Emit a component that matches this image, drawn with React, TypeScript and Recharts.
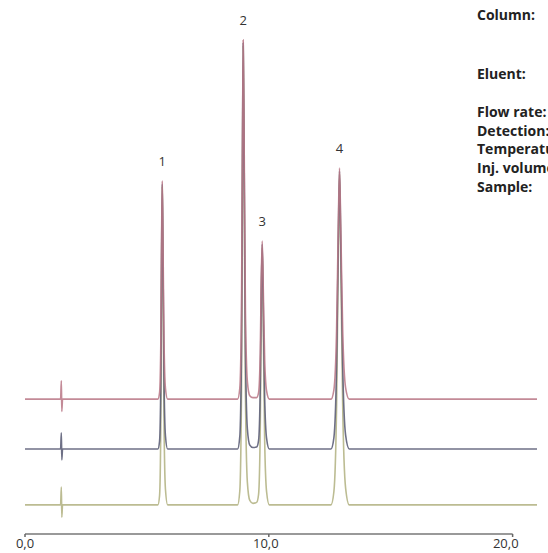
import React from 'react';
import {
  LineChart,
  Line,
  XAxis,
  YAxis,
  ReferenceLine,
  ReferenceDot,
} from 'recharts';

// retention time axis (min), shared by all three runs
const minutes = [
  0, 1.46, 1.49, 1.51, 1.54,
  5.45, 5.52, 5.57, 5.6, 5.63, 5.66, 5.7, 5.76, 5.85,
  8.72, 8.81, 8.88, 8.92, 8.95, 8.99, 9.04, 9.12, 9.22, 9.35,
  9.5, 9.58, 9.65, 9.69, 9.73, 9.77, 9.83, 9.91, 10.02,
  12.55, 12.67, 12.78, 12.85, 12.9, 12.95, 13.03, 13.15, 13.3,
  21,
];

// detector signal per run, offset vertically so the runs stack
const runA = [
  27.3, 27.3, 31.0, 24.8, 27.3,
  27.3, 28.6, 38.4, 58.2, 71.5, 59.1, 39.7, 29.5, 27.3,
  27.3, 29.5, 45.5, 79.6, 100, 78.2, 45.5, 30.9, 28.0, 27.6,
  27.6, 28.6, 36.9, 51.3, 59.3, 50.3, 35.3, 28.9, 27.3,
  27.3, 29.2, 41.3, 62.4, 74.1, 62.4, 41.3, 29.6, 27.3,
  27.3,
];

const runB = [
  17.2, 17.2, 20.5, 15.0, 17.2,
  17.2, 18.8, 30.6, 54.8, 70.9, 55.9, 32.2, 19.9, 17.2,
  17.2, 19.7, 37.8, 76.4, 99.4, 74.7, 37.8, 21.3, 18.0, 17.5,
  17.6, 18.9, 29.7, 48.3, 58.7, 47.1, 27.6, 19.3, 17.2,
  17.2, 19.5, 34.1, 59.4, 73.5, 59.4, 34.1, 20.0, 17.2,
  17.2,
];

const runC = [
  5.9, 5.9, 9.5, 3.4, 5.9,
  5.9, 7.8, 22.0, 51.0, 70.3, 52.3, 23.9, 9.1, 5.9,
  5.9, 8.7, 29.1, 72.8, 98.8, 70.9, 29.1, 10.5, 6.8, 6.2,
  6.4, 8.0, 21.6, 45.1, 58.1, 43.5, 19.0, 8.5, 5.9,
  5.9, 8.6, 26.0, 56.2, 72.9, 56.2, 26.0, 9.3, 5.9,
  5.9,
];

const peakNames = ['1', '2', '3', '4'];
const peakTimes = [5.63, 8.95, 9.73, 12.9];

const xTicks = [0, 10, 20];

// method conditions, grouped as they are laid out on the right
const conditionGroups = [
  ['Column:'],
  ['Eluent:'],
  ['Flow rate:', 'Detection:', 'Temperature:', 'Inj. volume:', 'Sample:'],
];
const groupGaps = [40, 20, 0];

const FONT = '"Open Sans", "DejaVu Sans", sans-serif';

const rows = minutes.map((t, i) => ({
  t,
  a: runA[i],
  b: runB[i],
  c: runC[i],
}));

const TimeTick = (props: any) => {
  const { x, y, payload } = props;
  const v = payload.value as number;
  const label = v.toFixed(1).replace('.', ',');
  let anchor: 'middle' | 'end' = 'middle';
  let dx = 0;
  if (v === 20) {
    anchor = 'end';
    dx = 6;
  } else if (v === 10) {
    dx = -3;
  }
  return (
    <text
      x={x + dx}
      y={y + 9}
      textAnchor={anchor}
      fontSize={13}
      fontFamily={FONT}
      fill="#333"
    >
      {label}
    </text>
  );
};

const App: React.FC = () => {
  return (
    <div
      style={{
        position: 'absolute',
        left: 0,
        top: 0,
        width: 548,
        height: 553,
        overflow: 'hidden',
        background: '#fff',
      }}
    >
      <LineChart
        width={548}
        height={553}
        data={rows}
        margin={{ top: 40, right: 11, left: 25, bottom: 0 }}
      >
        <XAxis
          dataKey="t"
          type="number"
          domain={[0, 21]}
          ticks={xTicks}
          height={19}
          axisLine={false}
          tickLine={{ stroke: '#666', strokeWidth: 1.5 }}
          tickSize={3}
          tickMargin={2}
          tick={<TimeTick />}
        />
        <YAxis type="number" domain={[0, 100]} hide width={0} />
        <ReferenceLine
          segment={[
            { x: 0, y: 0 },
            { x: 20, y: 0 },
          ]}
          stroke="#777"
          strokeWidth={1.5}
        />
        <Line
          dataKey="c"
          type="monotone"
          stroke="#bcbc92"
          strokeWidth={1.6}
          dot={false}
          isAnimationActive={false}
        />
        <Line
          dataKey="b"
          type="monotone"
          stroke="#5e6079"
          strokeWidth={1.6}
          strokeOpacity={0.9}
          dot={false}
          isAnimationActive={false}
        />
        <Line
          dataKey="a"
          type="monotone"
          stroke="#b87585"
          strokeWidth={1.6}
          strokeOpacity={0.85}
          dot={false}
          isAnimationActive={false}
        />
        {peakNames.map((name, i) => (
          <ReferenceDot
            key={name}
            x={peakTimes[i]}
            y={runA[minutes.indexOf(peakTimes[i])]}
            r={0}
            fill="none"
            stroke="none"
            label={{
              value: name,
              position: 'top',
              offset: 15,
              fontSize: 13,
              fontFamily: FONT,
              fill: '#333',
            }}
          />
        ))}
      </LineChart>
      <div
        style={{
          position: 'absolute',
          left: 477,
          top: 6,
          fontFamily: FONT,
          fontWeight: 700,
          fontSize: 14,
          lineHeight: '18.6px',
          color: '#222',
          whiteSpace: 'nowrap',
        }}
      >
        {conditionGroups.map((group, g) => (
          <div key={g} style={{ marginBottom: groupGaps[g] }}>
            {group.map((txt) => (
              <div key={txt}>{txt}</div>
            ))}
          </div>
        ))}
      </div>
    </div>
  );
};

export default App;
